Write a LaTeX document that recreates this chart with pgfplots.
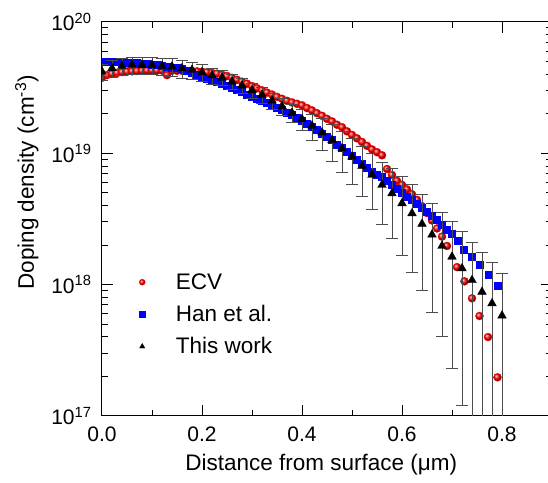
\documentclass[border=0pt]{standalone}
\usepackage{fontspec}
\setmainfont{Liberation Sans}
\usepackage{pgfplots}
\pgfplotsset{compat=1.18}

\newcommand{\tickfont}{\fontsize{21}{21}\selectfont}
\newcommand{\labfont}{\fontsize{22.5}{22.5}\selectfont}

\begin{document}
\begin{tikzpicture}
\begin{axis}[
  scale only axis,
  width=450pt, height=394pt,
  xmin=0, xmax=0.9,
  ymode=log, ymin=1e17, ymax=1e20,
  axis line style={line width=1pt},
  every tick/.style={black, line width=1pt},
  tick align=inside,
  major tick length=11pt, minor tick length=6pt,
  xtick={0,0.2,0.4,0.6,0.8},
  xticklabels={0.0,0.2,0.4,0.6,0.8},
  minor xtick={0.1,0.3,0.5,0.7,0.9},
  ytick={1e17,1e18,1e19,1e20},
  yticklabels={10\textsuperscript{17},10\textsuperscript{18},10\textsuperscript{19},10\textsuperscript{20}},
  minor ytick={2e17,3e17,4e17,5e17,6e17,7e17,8e17,9e17,2e18,3e18,4e18,5e18,6e18,7e18,8e18,9e18,2e19,3e19,4e19,5e19,6e19,7e19,8e19,9e19},
  tick label style={font=\tickfont},
  xticklabel style={yshift=-7pt},
  yticklabel style={xshift=-7pt},
  xlabel={Distance from surface (μm)},
  ylabel={Doping density (cm\textsuperscript{-3})},
  label style={font=\labfont},
  xlabel style={at={(axis description cs:0.487,-0.124)}, anchor=center},
  ylabel style={at={(axis description cs:-0.167,0.593)}, anchor=center},
  clip marker paths=true,
  legend style={at={(axis description cs:0.063,0.372)}, anchor=north west, draw=none, fill=none, font=\labfont, row sep=10.5pt},
  legend cell align=left,
  legend image code/.code={\draw[#1, mark size=3pt] plot coordinates {(8.5pt,0pt)}; \path (0pt,0pt) (40pt,0pt);},
]
% ECV
\addplot[only marks, mark=ball, ball color=red, color=red, mark size=4pt] coordinates {
(0.00,3.76e19) (0.01,3.94e19) (0.02,4.03e19) (0.03,4.09e19) (0.04,4.15e19)
(0.05,4.18e19) (0.06,4.21e19) (0.07,4.23e19) (0.08,4.25e19) (0.09,4.26e19)
(0.10,4.27e19) (0.11,4.27e19) (0.12,4.27e19) (0.13,3.94e19) (0.14,4.25e19)
(0.15,4.25e19) (0.16,4.25e19) (0.17,4.24e19) (0.18,4.23e19) (0.19,4.21e19)
(0.20,4.18e19) (0.21,4.14e19) (0.22,4.09e19) (0.23,4.04e19) (0.24,3.96e19)
(0.25,3.88e19) (0.26,3.76e19) (0.27,3.63e19) (0.28,3.51e19) (0.29,3.39e19)
(0.30,3.25e19) (0.31,3.13e19) (0.32,3.02e19) (0.33,2.90e19) (0.34,2.80e19)
(0.35,2.69e19) (0.36,2.60e19) (0.37,2.51e19) (0.38,2.44e19) (0.39,2.38e19)
(0.40,2.32e19) (0.41,2.21e19) (0.42,2.12e19) (0.43,2.02e19) (0.44,1.93e19)
(0.45,1.83e19) (0.46,1.75e19) (0.47,1.65e19) (0.48,1.58e19) (0.49,1.47e19)
(0.50,1.38e19) (0.51,1.30e19) (0.52,1.22e19) (0.53,1.14e19) (0.54,1.07e19)
(0.55,1.02e19) (0.56,9.66e18) (0.57,7.59e18) (0.58,6.84e18) (0.59,6.17e18)
(0.60,5.75e18) (0.61,5.31e18) (0.62,4.88e18) (0.63,4.42e18) (0.64,3.96e18)
(0.65,3.51e18) (0.66,3.08e18) (0.67,2.68e18) (0.68,2.32e18) (0.69,1.97e18)
(0.71,1.36e18) (0.725,1.06e18) (0.74,7.87e17) (0.755,5.77e17) (0.772,3.99e17)
(0.791,1.97e17)
};
\addlegendentry{ECV}
% Han et al.
\addplot[only marks, mark=square*, color=blue, mark size=3.5pt] coordinates {
(0.00,4.95e19) (0.01,4.95e19) (0.02,4.95e19) (0.03,4.94e19) (0.04,4.93e19)
(0.05,4.92e19) (0.06,4.90e19) (0.07,4.87e19) (0.08,4.84e19) (0.09,4.80e19)
(0.10,4.76e19) (0.11,4.72e19) (0.12,4.66e19) (0.13,4.59e19) (0.14,4.52e19)
(0.15,4.45e19) (0.16,4.37e19) (0.17,4.25e19) (0.18,4.12e19) (0.19,3.98e19)
(0.20,3.85e19) (0.21,3.73e19) (0.22,3.61e19) (0.23,3.49e19) (0.24,3.37e19)
(0.25,3.25e19) (0.26,3.14e19) (0.27,3.03e19) (0.28,2.92e19) (0.29,2.81e19)
(0.30,2.71e19) (0.31,2.61e19) (0.32,2.51e19) (0.33,2.42e19) (0.34,2.32e19)
(0.35,2.22e19) (0.36,2.14e19) (0.37,2.05e19) (0.38,1.97e19) (0.39,1.87e19)
(0.40,1.78e19) (0.41,1.69e19) (0.42,1.60e19) (0.43,1.51e19) (0.44,1.41e19)
(0.45,1.33e19) (0.46,1.26e19) (0.47,1.17e19) (0.48,1.10e19) (0.49,1.02e19)
(0.50,9.55e18) (0.51,8.91e18) (0.52,8.32e18) (0.53,7.76e18) (0.54,7.24e18)
(0.55,6.92e18) (0.56,6.61e18) (0.57,6.17e18) (0.58,5.75e18) (0.59,5.37e18)
(0.60,5.01e18) (0.61,4.70e18) (0.62,4.42e18) (0.63,4.12e18) (0.64,3.85e18)
(0.65,3.59e18) (0.66,3.35e18) (0.67,3.11e18) (0.68,2.85e18) (0.69,2.63e18)
(0.70,2.43e18) (0.711,2.16e18) (0.723,1.86e18) (0.74,1.62e18) (0.755,1.41e18)
(0.773,1.18e18) (0.791,9.9e17)
};
\addlegendentry{Han et al.}
% This work
\addplot[only marks, mark=triangle*, color=black, mark size=5pt,
  error bars/.cd, y dir=both, y explicit,
  error bar style={line width=0.8pt, black!70},
  error mark options={rotate=90, black!70, line width=0.8pt, mark size=6pt}]
  table[x=x, y=y, y error plus=ep, y error minus=em] {
x     y       ep      em
0.00  4.18e19 6.0e18  6.0e18
0.02  4.44e19 6.5e18  6.5e18
0.04  4.62e19 7.0e18  7.0e18
0.06  4.70e19 7.0e18  7.0e18
0.08  4.70e19 7.0e18  7.0e18
0.10  4.70e19 7.0e18  7.0e18
0.12  4.62e19 7.0e18  7.0e18
0.14  4.57e19 7.0e18  7.0e18
0.16  4.44e19 7.0e18  7.0e18
0.18  4.31e19 6.5e18  6.5e18
0.20  4.14e19 6.0e18  6.0e18
0.22  3.91e19 5.5e18  5.5e18
0.24  3.76e19 5.0e18  5.0e18
0.26  3.51e19 4.5e18  4.5e18
0.28  3.28e19 4.2e18  4.2e18
0.30  3.02e19 4.0e18  4.0e18
0.32  2.78e19 3.7e18  3.7e18
0.34  2.52e19 3.5e18  3.5e18
0.36  2.28e19 3.3e18  3.3e18
0.38  2.03e19 3.2e18  3.2e18
0.40  1.82e19 3.3e18  3.3e18
0.42  1.62e19 3.7e18  3.7e18
0.44  1.44e19 3.9e18  3.9e18
0.46  1.26e19 3.9e18  3.9e18
0.48  1.09e19 3.75e18 3.75e18
0.50  9.42e18 3.6e18  3.6e18
0.52  8.00e18 3.3e18  3.3e18
0.54  6.84e18 3.1e18  3.1e18
0.56  5.74e18 2.85e18 2.85e18
0.58  4.95e18 2.7e18  2.7e18
0.60  4.16e18 2.5e18  2.5e18
0.62  3.49e18 2.26e18 2.26e18
0.64  2.90e18 2.0e18  2.0e18
0.66  2.40e18 1.79e18 1.79e18
0.68  1.97e18 1.57e18 1.57e18
0.70  1.63e18 1.40e18 1.40e18
0.72  1.33e18 1.21e18 1.21e18
0.74  1.08e18 1.02e18 1.02e18
0.76  8.80e17 8.8e17  8.7e17
0.78  7.20e17 7.5e17  7.1e17
0.80  5.80e17 6.4e17  5.7e17
};
\addlegendentry{This work}
\end{axis}
\pgfresetboundingbox
\path[use as bounding box] ([shift={(-102pt,-67pt)}]current axis.south west) rectangle ([shift={(-4pt,22pt)}]current axis.north east);
\end{tikzpicture}
\end{document}
